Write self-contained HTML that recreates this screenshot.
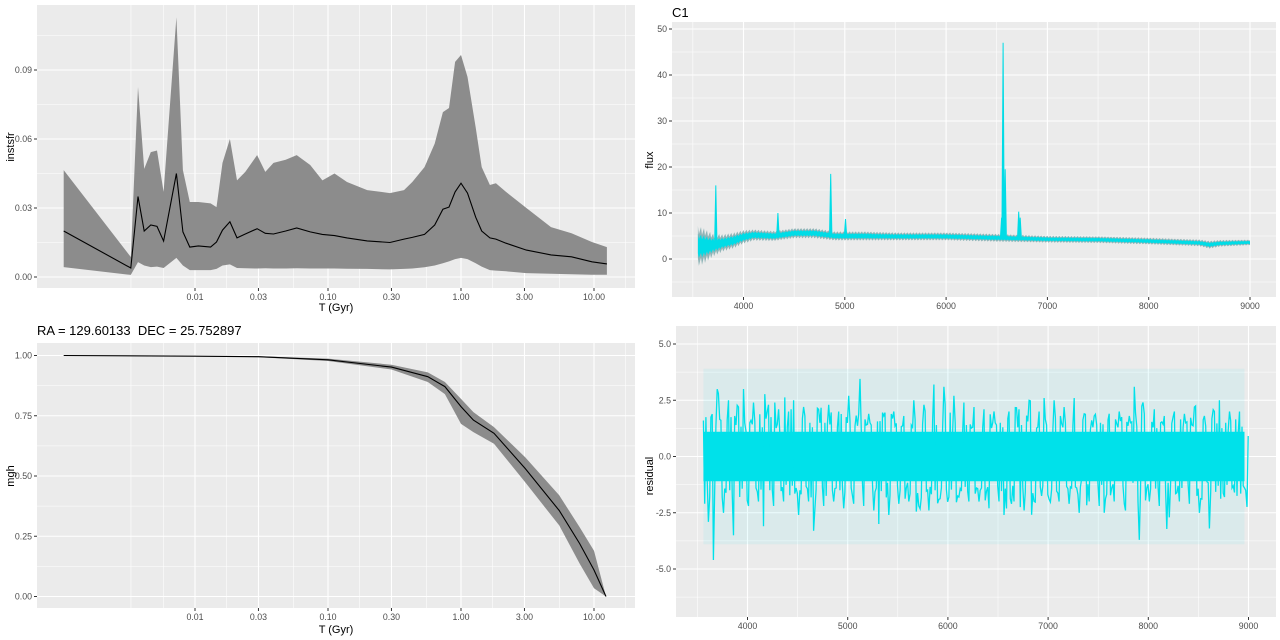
<!DOCTYPE html>
<html><head><meta charset="utf-8"><style>
html,body{margin:0;padding:0;background:#fff;}
svg{display:block;font-family:"Liberation Sans",sans-serif;}
</style></head><body>
<svg id="s" width="1280" height="640" xmlns="http://www.w3.org/2000/svg"></svg>
<script>
// ---- instsfr panel data ----
const sfrT=[0.00103,0.00329,0.00373,0.00415,0.00465,0.00518,0.00581,0.00725,0.00811,0.00914,0.0106,0.0131,0.0145,0.0161,0.0183,0.0207,0.0239,0.0293,0.0338,0.0389,0.0481,0.0582,0.0735,0.0908,0.112,0.139,0.197,0.292,0.373,0.430,0.532,0.634,0.731,0.812,0.903,1.00,1.12,1.29,1.43,1.65,1.83,2.18,3.10,4.75,6.77,9.64,12.5];
const sfrMed=[0.020,0.0039,0.035,0.020,0.0226,0.022,0.0156,0.045,0.0196,0.013,0.0135,0.013,0.0152,0.0204,0.024,0.017,0.0187,0.021,0.019,0.0187,0.020,0.0213,0.0196,0.0185,0.018,0.017,0.0157,0.015,0.0165,0.0172,0.0185,0.0226,0.0295,0.0304,0.037,0.0408,0.0365,0.026,0.020,0.017,0.0165,0.0147,0.0117,0.0096,0.0088,0.0066,0.0057];
const sfrHi=[0.0465,0.0087,0.0826,0.047,0.0543,0.055,0.037,0.113,0.0465,0.0326,0.0326,0.032,0.0304,0.0496,0.060,0.042,0.0457,0.053,0.0457,0.0496,0.051,0.053,0.0487,0.042,0.045,0.0413,0.0378,0.0365,0.0378,0.0413,0.0478,0.058,0.0717,0.0735,0.0935,0.0965,0.087,0.065,0.0478,0.040,0.0408,0.037,0.030,0.0217,0.019,0.0152,0.013];
const sfrLo=[0.0043,0.0009,0.0065,0.005,0.0043,0.0045,0.0039,0.0083,0.005,0.003,0.003,0.003,0.0035,0.005,0.0055,0.0039,0.0038,0.0037,0.0038,0.0037,0.0037,0.0038,0.0037,0.0037,0.0037,0.0036,0.0035,0.0033,0.0035,0.0037,0.0042,0.005,0.006,0.0068,0.0078,0.0083,0.0078,0.006,0.0045,0.003,0.0028,0.0025,0.0017,0.0014,0.0012,0.001,0.001];
const sfrYTicks=[0,0.03,0.06,0.09];
const sfrYLabels=["0.00","0.03","0.06","0.09"];
const tTicks=[0.01,0.03,0.1,0.3,1,3,10];
const tLabels=["0.01","0.03","0.10","0.30","1.00","3.00","10.00"];
const tMinor=[0.0033,0.0058,0.0173,0.0548,0.173,0.548,1.73,5.48,17.3];
// ---- mgh panel data ----
const mghT=[0.00103,0.01,0.03,0.1,0.3,0.563,0.757,1.0,1.24,1.77,3.04,5.47,7.8,10,12.3];
const mghMed=[1.0,0.997,0.995,0.982,0.952,0.912,0.871,0.788,0.732,0.677,0.531,0.357,0.22,0.11,0.0];
const mghHi=[1.0,0.998,0.997,0.987,0.962,0.93,0.89,0.82,0.765,0.703,0.578,0.42,0.288,0.19,0.0];
const mghLo=[1.0,0.996,0.993,0.977,0.942,0.89,0.84,0.716,0.682,0.634,0.474,0.295,0.137,0.034,0.0];
const mghYTicks=[0,0.25,0.5,0.75,1];
const mghYLabels=["0.00","0.25","0.50","0.75","1.00"];
// ---- flux panel data ----
const contW=[3550,3600,3650,3700,3800,3900,4000,4100,4300,4500,4700,4900,5200,5500,6000,6500,7000,7500,8000,8500,8600,8700,9000];
const contF=[2.8,2.8,2.9,3.0,3.5,4.0,4.8,5.2,5.0,5.6,5.6,5.0,5.0,4.9,4.9,4.6,4.3,4.2,3.9,3.5,3.1,3.4,3.6];
const contNoise=[3.5,3.2,2.6,2.0,1.5,1.4,1.2,1.0,0.9,0.9,0.9,0.8,0.8,0.7,0.7,0.7,0.6,0.6,0.6,0.6,0.7,0.6,0.5];
const lineW=[3727,4340,4861,5007,6548,6563,6583,6717,6731];
const lineF=[16,10,18.5,8.7,9,47,19.5,10.3,9];
const fluxYTicks=[0,10,20,30,40,50];
const waveTicks=[4000,5000,6000,7000,8000,9000];
// ---- residual panel data ----
const residStart=3560, residStep=50;
const resid=[1.6,-2.9,-4.6,2.8,-2.5,2.5,-3.5,2.2,3.0,-2.2,2.4,-2.0,-3.1,2.3,-2.2,2.1,-2.0,2.0,2.5,-2.6,2.2,-2.0,-3.3,2.1,-2.2,2.3,-2.0,2.0,-2.3,2.7,-2.1,1.9,-2.2,1.9,-2.4,-3.0,1.8,-2.6,2.0,-2.1,1.8,-2.0,2.5,-2.2,2.3,-2.4,3.2,-1.9,3.1,-1.8,2.7,-1.8,2.4,-2.0,2.2,-2.0,2.1,-2.3,2.0,-2.0,-2.6,2.0,-2.0,2.1,-2.4,2.5,-2.0,2.0,2.6,-1.9,2.5,-2.0,2.2,-2.1,2.6,-2.5,1.9,-2.0,1.8,-2.2,-2.5,1.9,-2.0,2.0,-2.1,1.8,3.1,-3.7,1.9,-2.0,2.1,-2.2,1.8,-2.7,2.0,-2.0,1.9,-2.1,2.2,-2.5,1.8,-3.2,2.0,2.5,-1.8,2.0,-1.6,2.0,-1.4];
const residYTicks=[-5,-2.5,0,2.5,5];
const residYLabels=["-5.0","-2.5","0.0","2.5","5.0"];

const NS="http://www.w3.org/2000/svg";
const svg=document.getElementById('s');
function mk(tag,attrs,parent){const e=document.createElementNS(NS,tag);for(const k in attrs)e.setAttribute(k,attrs[k]);(parent||svg).appendChild(e);return e;}
function txt(s,attrs,parent){const e=mk('text',attrs,parent);e.textContent=s;return e;}
function interp(xs,ys,x){if(x<=xs[0])return ys[0];for(let i=1;i<xs.length;i++){if(x<=xs[i]){const t=(x-xs[i-1])/(xs[i]-xs[i-1]);return ys[i-1]+t*(ys[i]-ys[i-1]);}}return ys[ys.length-1];}

function panel(name,x0,y0,x1,y1){const g=mk('g',{});
 const r=mk('rect',{x:x0,y:y0,width:x1-x0,height:y1-y0,fill:'#EBEBEB'},g);return g;}
function vgrid(g,x,y0,y1,major){const l=mk('line',{x1:x,x2:x,y1:y0,y2:y1,stroke:'#fff','stroke-width':major?1.1:0.55},g);}
function hgrid(g,y,x0,x1,major){const l=mk('line',{x1:x0,x2:x1,y1:y,y2:y,stroke:'#fff','stroke-width':major?1.1:0.55},g);}
function ytick(g,y,x0,label){const l=mk('line',{x1:x0-3,x2:x0,y1:y,y2:y,stroke:'#333','stroke-width':1},g);
 const t=txt(label,{x:x0-5,y:y+3,'text-anchor':'end','font-size':'8.8px',fill:'#4D4D4D'},g);}
function xtick(g,x,y1,label){const l=mk('line',{x1:x,x2:x,y1:y1,y2:y1+3,stroke:'#333','stroke-width':1},g);
 const t=txt(label,{x:x,y:y1+12,'text-anchor':'middle','font-size':'8.8px',fill:'#4D4D4D'},g);}
function clip(id,x0,y0,x1,y1){const c=mk('clipPath',{id:id});mk('rect',{x:x0,y:y0,width:x1-x0,height:y1-y0},c);}

// ===== top-left: instsfr =====
(function(){
 const X0=37,X1=635,Y0=5,Y1=288;
 const sx=t=>461+133*Math.log10(t), sy=v=>277-v*2300;
 const g=panel('instsfr-panel',X0,Y0,X1,Y1);
 [0.015,0.045,0.075,0.105].forEach(v=>hgrid(g,sy(v),X0,X1,false));
 tMinor.forEach(t=>vgrid(g,sx(t),Y0,Y1,false));
 sfrYTicks.forEach(v=>hgrid(g,sy(v),X0,X1,true));
 tTicks.forEach(t=>vgrid(g,sx(t),Y0,Y1,true));
 let d='';sfrT.forEach((t,i)=>{d+=(i?'L':'M')+sx(t).toFixed(1)+','+sy(sfrHi[i]).toFixed(1);});
 for(let i=sfrT.length-1;i>=0;i--)d+='L'+sx(sfrT[i]).toFixed(1)+','+sy(sfrLo[i]).toFixed(1);
 const rb=mk('path',{d:d+'Z',fill:'#8C8C8C'},g);
 let m='';sfrT.forEach((t,i)=>{m+=(i?'L':'M')+sx(t).toFixed(1)+','+sy(sfrMed[i]).toFixed(1);});
 const ln=mk('path',{d:m,fill:'none',stroke:'#000','stroke-width':1.1},g);
 sfrYTicks.forEach((v,i)=>ytick(g,sy(v),X0,sfrYLabels[i]));
 tTicks.forEach((t,i)=>xtick(g,sx(t),Y1,tLabels[i]));
 const xt=txt('T (Gyr)',{x:336,y:311,'text-anchor':'middle','font-size':'11px',fill:'#000'},g);
 const yt=txt('instsfr',{x:0,y:0,transform:'translate(14,147) rotate(-90)','text-anchor':'middle','font-size':'11px',fill:'#000'},g);
})();

// ===== bottom-left: mgh =====
(function(){
 const X0=37,X1=635,Y0=343,Y1=608;
 const sx=t=>461+133*Math.log10(t), sy=v=>596.5-v*241;
 const g=panel('mgh-panel',X0,Y0,X1,Y1);
 const tl=txt('RA = 129.60133  DEC = 25.752897',{x:37,y:335,'font-size':'13px',fill:'#000'},g);
 tl.style.whiteSpace='pre';
 [0.125,0.375,0.625,0.875].forEach(v=>hgrid(g,sy(v),X0,X1,false));
 tMinor.forEach(t=>vgrid(g,sx(t),Y0,Y1,false));
 mghYTicks.forEach(v=>hgrid(g,sy(v),X0,X1,true));
 tTicks.forEach(t=>vgrid(g,sx(t),Y0,Y1,true));
 let d='';mghT.forEach((t,i)=>{d+=(i?'L':'M')+sx(t).toFixed(1)+','+sy(mghHi[i]).toFixed(1);});
 for(let i=mghT.length-1;i>=0;i--)d+='L'+sx(mghT[i]).toFixed(1)+','+sy(mghLo[i]).toFixed(1);
 const rb=mk('path',{d:d+'Z',fill:'#8C8C8C'},g);
 let m='';mghT.forEach((t,i)=>{m+=(i?'L':'M')+sx(t).toFixed(1)+','+sy(mghMed[i]).toFixed(1);});
 const ln=mk('path',{d:m,fill:'none',stroke:'#000','stroke-width':1.1},g);
 mghYTicks.forEach((v,i)=>ytick(g,sy(v),X0,mghYLabels[i]));
 tTicks.forEach((t,i)=>xtick(g,sx(t),Y1,tLabels[i]));
 const xt=txt('T (Gyr)',{x:336,y:633,'text-anchor':'middle','font-size':'11px',fill:'#000'},g);
 const yt=txt('mgh',{x:0,y:0,transform:'translate(14,476) rotate(-90)','text-anchor':'middle','font-size':'11px',fill:'#000'},g);
})();

// ===== top-right: flux =====
(function(){
 const X0=672,X1=1276,Y0=22,Y1=297;
 const sx=w=>743.5+(w-4000)*0.1013, sy=f=>259-f*4.6;
 const g=panel('flux-panel',X0,Y0,X1,Y1);
 clip('cf',X0,Y0,X1,Y1);
 const tl=txt('C1',{x:672,y:17,'font-size':'13px',fill:'#000'},g);
 [-5,5,15,25,35,45].forEach(v=>hgrid(g,sy(v),X0,X1,false));
 [3500,4500,5500,6500,7500,8500,9500].forEach(w=>vgrid(g,sx(w),Y0,Y1,false));
 fluxYTicks.forEach(v=>hgrid(g,sy(v),X0,X1,true));
 waveTicks.forEach(w=>vgrid(g,sx(w),Y0,Y1,true));
 function band(scale,color,name){let top='',bot=[];let k=0;
  for(let w=contW[0];w<=9000;w+=10){const c=interp(contW,contF,w),n=interp(contW,contNoise,w)*scale;
   const a=(k%3===0?1:(k%3===1?0.6:0.8));top+=(k?'L':'M')+sx(w).toFixed(1)+','+sy(c+n*a).toFixed(1);bot.push(sx(w).toFixed(1)+','+sy(c-n*(1.6-a)).toFixed(1));k++;}
  const p=mk('path',{d:top+'L'+bot.reverse().join('L')+'Z',fill:color,'clip-path':'url(#cf)'},g);}
 band(1.25,'#8FB5B8','model-spectrum-band');
 band(0.75,'#00DCE6','observed-spectrum-band');
 lineW.forEach((w,i)=>{const c=interp(contW,contF,w);
  const p=mk('path',{d:'M'+(sx(w)-1.2).toFixed(1)+','+sy(c).toFixed(1)+'L'+sx(w).toFixed(1)+','+sy(lineF[i]).toFixed(1)+'L'+(sx(w)+1.2).toFixed(1)+','+sy(c).toFixed(1)+'Z',fill:'#00DCE6',stroke:'#00DCE6','stroke-width':1},g);
  });
 fluxYTicks.forEach(v=>ytick(g,sy(v),X0,String(v)));
 waveTicks.forEach(w=>xtick(g,sx(w),Y1,String(w)));
 const yt=txt('flux',{x:0,y:0,transform:'translate(653,160) rotate(-90)','text-anchor':'middle','font-size':'11px',fill:'#000'},g);
})();

// ===== bottom-right: residual =====
(function(){
 const X0=676,X1=1276,Y0=326,Y1=617;
 const sx=w=>747.5+(w-4000)*0.1002, sy=r=>456.5-r*22.5;
 const g=panel('residual-panel',X0,Y0,X1,Y1);
 [-6.25,-3.75,-1.25,1.25,3.75].forEach(v=>hgrid(g,sy(v),X0,X1,false));
 [3500,4500,5500,6500,7500,8500,9500].forEach(w=>vgrid(g,sx(w),Y0,Y1,false));
 residYTicks.forEach(v=>hgrid(g,sy(v),X0,X1,true));
 waveTicks.forEach(w=>vgrid(g,sx(w),Y0,Y1,true));
 const n=resid.length;
 const wEnd=residStart+residStep*(n-1);
 const eb=mk('rect',{x:sx(residStart),y:sy(3.9),width:sx(wEnd)-sx(residStart),height:sy(-3.9)-sy(3.9),fill:'#00E5EE','fill-opacity':0.07},g);
 
 const core=mk('rect',{x:sx(residStart),y:sy(1.1),width:sx(wEnd)-sx(residStart),height:sy(-1.1)-sy(1.1),fill:'#00E1EA'},g);
 
 let d='';
 resid.forEach((r,i)=>{const w=residStart+residStep*i;
   const r2=resid[(i*7+3)%n], r3=resid[(i*13+5)%n];
   d+=(i?'L':'M')+sx(w).toFixed(1)+','+sy(r).toFixed(1);
   d+='L'+sx(w+residStep*0.25).toFixed(1)+','+sy(-r2*0.75).toFixed(1);
   d+='L'+sx(w+residStep*0.5).toFixed(1)+','+sy(r3*0.7).toFixed(1);
   d+='L'+sx(w+residStep*0.75).toFixed(1)+','+sy(-r*0.65).toFixed(1);});
 const ln=mk('path',{d:d,fill:'none',stroke:'#00E1EA','stroke-width':1.3},g);
 residYTicks.forEach((v,i)=>ytick(g,sy(v),X0,residYLabels[i]));
 waveTicks.forEach(w=>xtick(g,sx(w),Y1,String(w)));
 const yt=txt('residual',{x:0,y:0,transform:'translate(653,476) rotate(-90)','text-anchor':'middle','font-size':'11px',fill:'#000'},g);
})();
</script>
</body></html>
